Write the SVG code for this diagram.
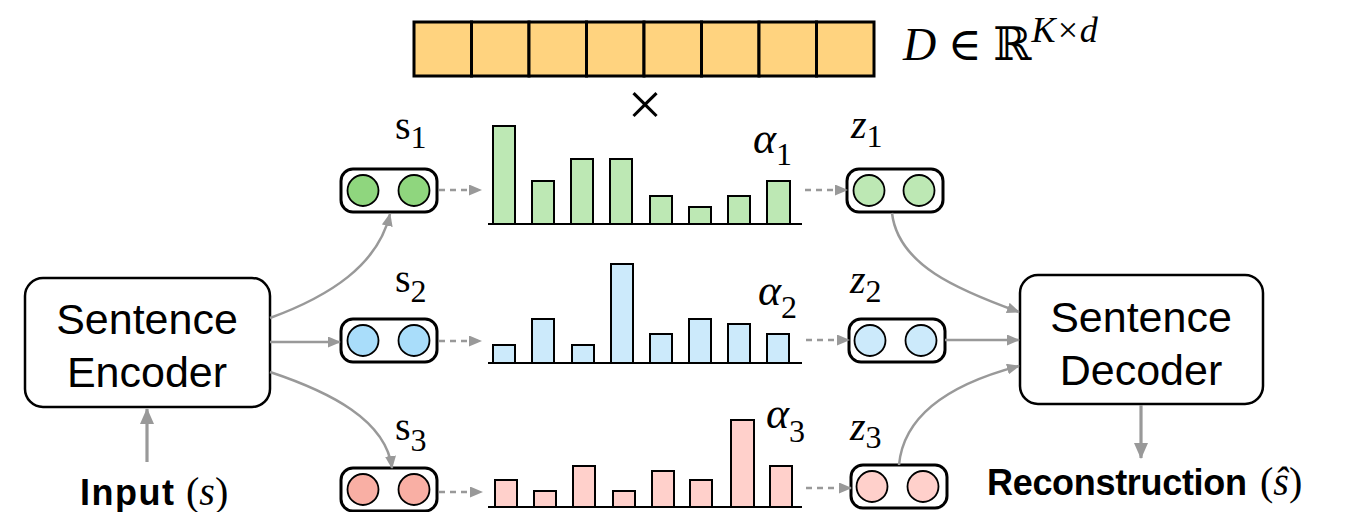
<svg xmlns="http://www.w3.org/2000/svg" width="1345" height="512" viewBox="0 0 1345 512">
<style>
.box{fill:#fff;stroke:#000;stroke-width:2.5}
.vec{fill:#fff;stroke:#000;stroke-width:3}
.c{stroke:#000;stroke-width:1.8}
.g1{fill:#8FD67E}.g2{fill:#BDE8B4}
.b1{fill:#A9DDFA}.b2{fill:#CCEAFB}
.r1{fill:#F9AFA4}.r2{fill:#FFD0CB}
.bar{stroke:#000;stroke-width:2}
.axis{stroke:#000;stroke-width:2}
.cell{fill:#FFD37F;stroke:#000;stroke-width:3}
.lbl{font-family:"Liberation Sans","DejaVu Sans",sans-serif;font-size:43px;fill:#000}
.bold{font-family:"Liberation Sans","DejaVu Sans",sans-serif;font-weight:bold;font-size:36px;fill:#000}
.math{font-family:"Liberation Serif","DejaVu Serif",serif;fill:#000}
.conn{fill:none;stroke:#999;stroke-width:2.5}
.thick{stroke-width:3.2}
.dash{fill:none;stroke:#999;stroke-width:2.5;stroke-dasharray:6 5}
</style>
<defs>
<marker id="ah" markerWidth="13" markerHeight="11" refX="12" refY="5.5" orient="auto" markerUnits="userSpaceOnUse">
<path d="M0,0 L13,5.5 L0,11 Z" fill="#999"/>
</marker>
<marker id="ahb" markerWidth="16" markerHeight="14" refX="15" refY="7" orient="auto" markerUnits="userSpaceOnUse">
<path d="M0,0 L16,7 L0,14 Z" fill="#999"/>
</marker>
</defs>

<g id="dictionary">
<rect class="cell" x="414" y="22" width="57.5" height="54"/>
<rect class="cell" x="471.5" y="22" width="57.5" height="54"/>
<rect class="cell" x="529" y="22" width="57.5" height="54"/>
<rect class="cell" x="586.5" y="22" width="57.5" height="54"/>
<rect class="cell" x="644" y="22" width="57.5" height="54"/>
<rect class="cell" x="701.5" y="22" width="57.5" height="54"/>
<rect class="cell" x="759" y="22" width="57.5" height="54"/>
<rect class="cell" x="816.5" y="22" width="57.5" height="54"/>
<text class="math" x="903" y="60" font-size="46"><tspan font-style="italic">D</tspan> ∈ ℝ<tspan font-style="italic" font-size="36" dy="-18">K×d</tspan></text>
<text class="math" x="645" y="125" font-size="62" text-anchor="middle">×</text>
</g>

<g id="encoder">
<rect class="box" x="25" y="278" width="245" height="129" rx="18"/>
<text class="lbl" x="147" y="334" text-anchor="middle">Sentence</text>
<text class="lbl" x="147" y="387" text-anchor="middle">Encoder</text>
</g>

<g id="input">
<text class="bold" x="80" y="505" textLength="94">Input</text>
<text class="math" x="186" y="505" font-size="40">(<tspan font-style="italic">s</tspan>)</text>
</g>

<g id="s1">
<rect class="vec" x="341" y="169" width="96" height="43" rx="12"/>
<circle class="c g1" cx="363" cy="190.5" r="15.5"/>
<circle class="c g1" cx="414" cy="190.5" r="15.5"/>
<text class="math" x="395" y="139" font-size="40">s<tspan font-size="32" dy="9">1</tspan></text>
</g>
<g id="s2">
<rect class="vec" x="341" y="319" width="96" height="43" rx="12"/>
<circle class="c b1" cx="363" cy="340.5" r="15.5"/>
<circle class="c b1" cx="414" cy="340.5" r="15.5"/>
<text class="math" x="395" y="292" font-size="40">s<tspan font-size="32" dy="10">2</tspan></text>
</g>
<g id="s3">
<rect class="vec" x="341" y="468" width="96" height="43" rx="12"/>
<circle class="c r1" cx="363" cy="489.5" r="15.5"/>
<circle class="c r1" cx="414" cy="489.5" r="15.5"/>
<text class="math" x="395" y="440" font-size="40">s<tspan font-size="32" dy="11">3</tspan></text>
</g>

<g id="alpha1">
<rect class="bar g2" x="493" y="126" width="22" height="98"/>
<rect class="bar g2" x="532" y="181" width="22" height="43"/>
<rect class="bar g2" x="571" y="159" width="22" height="65"/>
<rect class="bar g2" x="610" y="159" width="22" height="65"/>
<rect class="bar g2" x="650" y="196" width="22" height="28"/>
<rect class="bar g2" x="689" y="207" width="22" height="17"/>
<rect class="bar g2" x="728" y="196" width="22" height="28"/>
<rect class="bar g2" x="767" y="181" width="23" height="43"/>
<line class="axis" x1="488" y1="224" x2="802" y2="224"/>
<text class="math" x="753" y="153" font-size="44" font-style="italic">α<tspan font-style="normal" font-size="32" dy="12">1</tspan></text>
</g>
<g id="alpha2">
<rect class="bar b2" x="493" y="345" width="22" height="18"/>
<rect class="bar b2" x="532" y="319" width="22" height="44"/>
<rect class="bar b2" x="572" y="345" width="22" height="18"/>
<rect class="bar b2" x="611" y="264" width="22" height="99"/>
<rect class="bar b2" x="650" y="334" width="22" height="29"/>
<rect class="bar b2" x="689" y="319" width="22" height="44"/>
<rect class="bar b2" x="728" y="324" width="22" height="39"/>
<rect class="bar b2" x="767" y="334" width="22" height="29"/>
<line class="axis" x1="488" y1="363" x2="802" y2="363"/>
<text class="math" x="758" y="305" font-size="44" font-style="italic">α<tspan font-style="normal" font-size="32" dy="13">2</tspan></text>
</g>
<g id="alpha3">
<rect class="bar r2" x="495" y="480" width="22" height="27"/>
<rect class="bar r2" x="534" y="491" width="22" height="16"/>
<rect class="bar r2" x="573" y="466" width="22" height="41"/>
<rect class="bar r2" x="613" y="491" width="22" height="16"/>
<rect class="bar r2" x="652" y="471" width="22" height="36"/>
<rect class="bar r2" x="690" y="480" width="22" height="27"/>
<rect class="bar r2" x="731" y="420" width="23" height="87"/>
<rect class="bar r2" x="770" y="466" width="22" height="41"/>
<line class="axis" x1="488" y1="507" x2="802" y2="507"/>
<text class="math" x="766" y="428" font-size="44" font-style="italic">α<tspan font-style="normal" font-size="32" dy="14">3</tspan></text>
</g>

<g id="z1">
<rect class="vec" x="847" y="169" width="96" height="43" rx="12"/>
<circle class="c g2" cx="869" cy="190.5" r="15.5"/>
<circle class="c g2" cx="919" cy="190.5" r="15.5"/>
<text class="math" x="851" y="138" font-size="40" font-style="italic">z<tspan font-style="normal" font-size="32" dy="9">1</tspan></text>
</g>
<g id="z2">
<rect class="vec" x="849" y="319" width="96" height="43" rx="12"/>
<circle class="c b2" cx="870" cy="340.5" r="15.5"/>
<circle class="c b2" cx="921" cy="340.5" r="15.5"/>
<text class="math" x="850" y="293" font-size="40" font-style="italic">z<tspan font-style="normal" font-size="32" dy="9">2</tspan></text>
</g>
<g id="z3">
<rect class="vec" x="851" y="465" width="96" height="43" rx="12"/>
<circle class="c r2" cx="872" cy="486.5" r="15.5"/>
<circle class="c r2" cx="923" cy="486.5" r="15.5"/>
<text class="math" x="850" y="440" font-size="40" font-style="italic">z<tspan font-style="normal" font-size="32" dy="8">3</tspan></text>
</g>

<g id="decoder">
<rect class="box" x="1020" y="275" width="243" height="129" rx="18"/>
<text class="lbl" x="1141" y="332" text-anchor="middle">Sentence</text>
<text class="lbl" x="1141" y="385" text-anchor="middle">Decoder</text>
</g>

<g id="reconstruction">
<text class="bold" x="987" y="495" textLength="260">Reconstruction</text>
<text class="math" x="1260" y="495" font-size="40">(<tspan font-style="italic">ŝ</tspan>)</text>
</g>

<g id="connectors">
<path class="conn thick" d="M147,462 L147,409" marker-end="url(#ahb)"/>
<path class="conn" d="M270,318 C330,296 378,265 390,214" marker-end="url(#ah)"/>
<path class="conn" d="M270,342 L340,342" marker-end="url(#ah)"/>
<path class="conn" d="M270,372 C330,392 386,420 392,468" marker-end="url(#ah)"/>
<path class="dash" d="M439,190 L481,190" marker-end="url(#ah)"/>
<path class="dash" d="M439,341 L481,341" marker-end="url(#ah)"/>
<path class="dash" d="M439,492 L482,492" marker-end="url(#ah)"/>
<path class="dash" d="M805,190 L847,190" marker-end="url(#ah)"/>
<path class="dash" d="M806,340 L849,340" marker-end="url(#ah)"/>
<path class="dash" d="M806,488 L851,488" marker-end="url(#ah)"/>
<path class="conn" d="M892,213 C898,265 958,290 1019,312" marker-end="url(#ah)"/>
<path class="conn" d="M945,340 L1019,340" marker-end="url(#ah)"/>
<path class="conn" d="M899,465 C904,410 958,382 1019,366" marker-end="url(#ah)"/>
<path class="conn thick" d="M1141,405 L1141,458" marker-end="url(#ahb)"/>
</g>
</svg>
